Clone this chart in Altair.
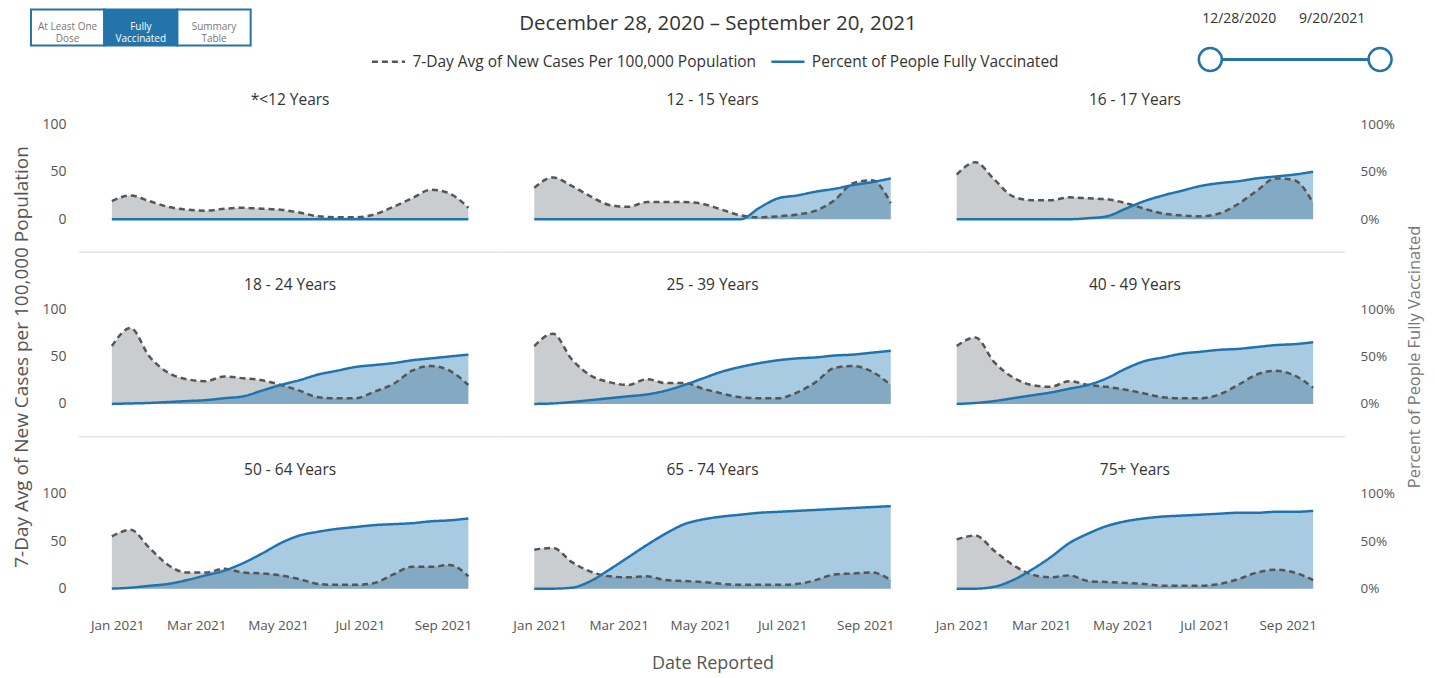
import altair as alt
import pandas as pd

FONT = "Open Sans"

# ---------------- data ----------------
dates = pd.date_range("2020-12-28", periods=20, freq="14D")

groups = ["*<12 Years", "12 - 15 Years", "16 - 17 Years",
          "18 - 24 Years", "25 - 39 Years", "40 - 49 Years",
          "50 - 64 Years", "65 - 74 Years", "75+ Years"]

cases = {
    "*<12 Years":    [19, 25, 19, 13, 10, 9, 11, 12, 11, 10, 7, 3, 2, 2, 5, 13, 22, 31, 27, 12],
    "12 - 15 Years": [33, 44, 35, 24, 15, 13, 18, 18, 18, 16, 10, 4, 2, 3, 5, 9, 20, 38, 41, 17],
    "16 - 17 Years": [47, 60, 42, 24, 20, 20, 23, 22, 21, 17, 11, 6, 4, 3, 6, 16, 30, 43, 41, 17],
    "18 - 24 Years": [61, 80, 50, 33, 26, 24, 29, 27, 25, 20, 14, 7, 6, 6, 13, 21, 35, 40, 35, 20],
    "25 - 39 Years": [61, 74, 47, 30, 23, 20, 26, 22, 22, 16, 11, 7, 6, 6, 12, 23, 38, 40, 34, 20],
    "40 - 49 Years": [61, 70, 44, 28, 20, 18, 24, 20, 18, 15, 11, 7, 6, 6, 10, 20, 31, 35, 30, 17],
    "50 - 64 Years": [55, 62, 43, 25, 17, 17, 21, 17, 16, 14, 10, 5, 4, 4, 6, 15, 23, 23, 25, 13],
    "65 - 74 Years": [41, 43, 28, 18, 13, 12, 13, 9, 8, 7, 5, 4, 4, 4, 5, 9, 15, 16, 17, 9],
    "75+ Years":     [52, 56, 40, 25, 15, 12, 14, 8, 7, 6, 5, 3, 3, 3, 5, 10, 17, 20, 17, 9],
}

vax = {
    "*<12 Years":    [0] * 20,
    "12 - 15 Years": [0, 0, 0, 0, 0, 0, 0, 0, 0, 0, 0, 0, 12, 22, 25, 29, 32, 36, 39, 43],
    "16 - 17 Years": [0, 0, 0, 0, 0, 0, 0, 1, 3, 11, 19, 25, 30, 35, 38, 40, 43, 45, 47, 50],
    "18 - 24 Years": [0, 0.5, 1, 2, 3, 4, 6, 8, 14, 20, 25, 31, 35, 39, 41, 43, 46, 48, 50, 52],
    "25 - 39 Years": [0, 0.5, 2, 4, 6, 8, 10, 14, 20, 27, 34, 39, 43, 46, 48, 49, 51, 52, 54, 56],
    "40 - 49 Years": [0, 1, 3, 6, 9, 12, 16, 20, 27, 37, 45, 49, 53, 55, 57, 58, 60, 62, 63, 65],
    "50 - 64 Years": [0, 1, 3, 5, 9, 14, 19, 27, 37, 48, 56, 60, 63, 65, 67, 68, 69, 71, 72, 74],
    "65 - 74 Years": [0, 0, 1, 8, 20, 33, 46, 58, 68, 73, 76, 78, 80, 81, 82, 83, 84, 85, 86, 87],
    "75+ Years":     [0, 0, 2, 9, 20, 33, 48, 58, 66, 71, 74, 76, 77, 78, 79, 80, 80, 81, 81, 82],
}

L_CASES = "7-Day Avg of New Cases Per 100,000 Population"
L_VAX = "Percent of People Fully Vaccinated"
series_names = [L_CASES, L_VAX]
left_title = "7-Day Avg of New Cases per 100,000 Population"
right_title = "Percent of People Fully Vaccinated"
x_title = "Date Reported"
tick_months = [1, 3, 5, 7, 9]
y_ticks = [0, 50, 100]

title_text = "December 28, 2020 \u2013 September 20, 2021"
buttons = ["At Least One\nDose", "Fully\nVaccinated", "Summary\nTable"]
button_selected = [0, 1, 0]
slider_dates = ["2020-12-28", "2021-09-20"]
slider_labels = ["12/28/2020", "9/20/2021"]

# ---------------- style ----------------
W, H = 357, 95
HSP, VSP = 66, 90
GREY_FILL = "#c9cdd0"
BLUE_FILL = "#0067aa"
LINE_GREY = "#555555"
LINE_BLUE = "#1f74b0"
BTN_BLUE = "#2574a9"

LEG = alt.Legend(orient="none", legendX=259, legendY=34, direction="horizontal",
                 title=None, symbolType="stroke", symbolSize=1100,
                 symbolStrokeWidth=2.5, labelFontSize=15.5, labelColor="#333",
                 labelFont=FONT, labelLimit=600, columnPadding=9, labelOffset=6,
                 padding=0)
color_scale = alt.Scale(domain=series_names, range=[LINE_GREY, LINE_BLUE])
dash_scale = alt.Scale(domain=series_names, range=[[6, 4], [1, 0]])
ys = alt.Scale(domain=[0, 100], nice=False)
xs = alt.Scale(nice=False)


def panel(i):
    g = groups[i]
    r, c = divmod(i, 3)
    dc = pd.DataFrame({"date": dates, "value": cases[g], "series": L_CASES})
    dv = pd.DataFrame({"date": dates, "value": vax[g], "series": L_VAX})

    if r == 2:
        xaxis = alt.Axis(format="%b %Y",
                         values=[alt.DateTime(year=2021, month=m, date=1) for m in tick_months],
                         labelPadding=30, ticks=False, domain=False, grid=False,
                         labelFontSize=13.5, labelColor="#555",
                         title=x_title if c == 1 else "", titleFontSize=18,
                         titleFontWeight="normal", titleColor="#555", titlePadding=22)
        x = alt.X("date:T", scale=xs, axis=xaxis)
    else:
        x = alt.X("date:T", scale=xs, axis=None)

    if c == 0:
        yl = alt.Y("value:Q", scale=ys, axis=alt.Axis(
            orient="left", values=y_ticks, grid=False, ticks=False, domain=False,
            labelPadding=46, labelFontSize=14, labelColor="#555",
            title=left_title if r == 1 else "", titleFontSize=19,
            titleFontWeight="normal", titleColor="#555", titlePadding=10))
    else:
        yl = alt.Y("value:Q", scale=ys, axis=None)

    if c == 2:
        yr = alt.Y("value:Q", scale=ys, axis=alt.Axis(
            orient="right", values=y_ticks, grid=False, ticks=False, domain=False,
            labelExpr="datum.value + '%'",
            labelPadding=47, labelFontSize=13.5, labelColor="#555",
            title=right_title if r == 1 else "", titleFontSize=16.5,
            titleFontWeight="normal", titleColor="#777", titlePadding=12,
            titleAngle=270, titleBaseline="top"))
    else:
        yr = alt.Y("value:Q", scale=ys, axis=None)

    yn = alt.Y("value:Q", scale=ys, axis=None)

    area_c = alt.Chart(dc).mark_area(color=GREY_FILL, opacity=1, interpolate="monotone").encode(x=x, y=yl)
    area_v = alt.Chart(dv).mark_area(color=BLUE_FILL, opacity=0.34, interpolate="monotone").encode(x=x, y=yr)
    line_c = alt.Chart(dc).mark_line(strokeWidth=2.5, interpolate="monotone").encode(
        x=x, y=yn,
        color=alt.Color("series:N", scale=color_scale, legend=LEG),
        strokeDash=alt.StrokeDash("series:N", scale=dash_scale, legend=LEG))
    line_v = alt.Chart(dv).mark_line(strokeWidth=2.5, interpolate="monotone").encode(
        x=x, y=yn,
        color=alt.Color("series:N", scale=color_scale, legend=LEG),
        strokeDash=alt.StrokeDash("series:N", scale=dash_scale, legend=LEG))
    ttl = alt.Chart(pd.DataFrame({"t": [g]})).mark_text(fontSize=15.5, color="#333").encode(
        text="t:N", x=alt.value(W / 2), y=alt.value(-24))
    layers = [area_c, area_v, line_c, line_v, ttl]
    if r < 2:
        x0 = -33
        x1 = W + 33 if c < 2 else W + 32
        sep = alt.Chart(alt.Data(values=[{"k": 1}])).mark_rule(color="#d9d9d9", strokeWidth=1).encode(
            x=alt.value(x0), x2=alt.value(x1), y=alt.value(H + 33))
        layers.append(sep)

    return alt.layer(*layers).resolve_scale(y="independent").properties(width=W, height=H)


panels = [panel(i) for i in range(9)]
grid = alt.concat(*panels, columns=3, spacing={"row": VSP, "column": HSP}, bounds="flush")

# ---------------- header (title, buttons, slider) ----------------
HW = 3 * W + 2 * HSP
title_df = pd.DataFrame({"t": [title_text]})
head_title = alt.Chart(title_df).mark_text(fontSize=20.5, color="#333").encode(
    text="t:N", x=alt.value(607), y=alt.value(15))

btn_df = pd.DataFrame({"label": buttons, "sel": button_selected})
bx = alt.X("label:N", sort=buttons, axis=None,
           scale=alt.Scale(range=[-81, 139], paddingInner=0, paddingOuter=0))
btn_rect = alt.Chart(btn_df).mark_rect(stroke=BTN_BLUE, strokeWidth=2).encode(
    x=bx, y=alt.value(0), y2=alt.value(36),
    fill=alt.condition("datum.sel == 1", alt.value(BTN_BLUE), alt.value("white")))
btn_text = alt.Chart(btn_df).mark_text(fontSize=10, lineBreak="\n", lineHeight=12).encode(
    x=bx, y=alt.value(18), text="label:N",
    color=alt.condition("datum.sel == 1", alt.value("white"), alt.value("#777")))

sl_df = pd.DataFrame({"d": pd.to_datetime(slider_dates), "lab": slider_labels})
sl_domain = [alt.DateTime(year=2020, month=12, date=28), alt.DateTime(year=2021, month=9, date=20)]
sl_scale = alt.Scale(domain=sl_domain, range=[1100, 1270], nice=False)
sl_rule = alt.Chart(sl_df).mark_rule(color=BTN_BLUE, strokeWidth=3).encode(
    x=alt.X("min(d):T", scale=sl_scale, axis=None), x2="max(d):T", y=alt.value(50))
sl_pts = alt.Chart(sl_df).mark_point(shape="circle", size=530, filled=True, fill="white",
                                     stroke=BTN_BLUE, strokeWidth=2.5, opacity=1).encode(
    x=alt.X("d:T", scale=sl_scale, axis=None), y=alt.value(50))
sl_lab = alt.Chart(sl_df).mark_text(fontSize=14, color="#333").encode(
    x=alt.X("d:T", axis=None, scale=alt.Scale(domain=sl_domain, range=[1129, 1222], nice=False)),
    y=alt.value(10), text="lab:N")

header = alt.layer(head_title, btn_rect, btn_text, sl_rule, sl_pts, sl_lab).resolve_scale(
    x="independent").properties(width=HW, height=80)

chart = alt.vconcat(header, grid, spacing=35, bounds="flush").resolve_scale(
    color="shared", strokeDash="shared").resolve_legend(
    color="shared", strokeDash="shared").properties(
    padding={"left": 4, "top": 0, "right": 4, "bottom": 3}).configure(
    font=FONT).configure_view(strokeWidth=0)

chart.save("out.html", embed_options={"renderer": "svg", "actions": False})
